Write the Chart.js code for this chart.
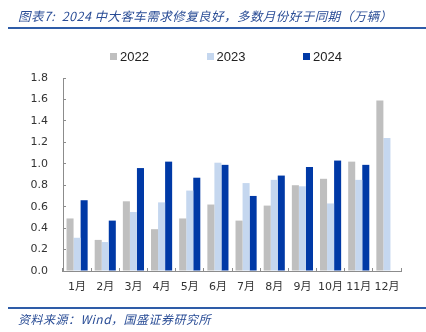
<!DOCTYPE html>
<html>
<head>
<meta charset="utf-8">
<script src="https://cdn.jsdelivr.net/npm/chart.js@4"></script>
<style>
    html, body { margin: 0; padding: 0; background: #fff; }
    #wrap { position: relative; width: 426px; height: 332px; overflow: hidden; }
    #salesChart { position: absolute; left: 0; top: 0; }
    .caption {
        position: absolute; left: 18px; font-style: italic; color: #2a4d96;
        font-family: "Noto Sans CJK SC", "DejaVu Sans", sans-serif; white-space: nowrap;
    }
    #title { top: 6px; font-size: 12.5px; letter-spacing: 0.45px; }
    #source { top: 310px; font-size: 12px; letter-spacing: 0.5px; }
    .rule { position: absolute; left: 8px; right: 0; height: 2px; background: #2e5ca8; }
    #legend { position: absolute; left: 110px; top: 49px; display: flex; }
    .legend-item { width: 96.5px; display: flex; align-items: center;
        font-family: "Liberation Sans", Arial, sans-serif; font-size: 13px; color: #222; }
    .legend-box { width: 7px; height: 7px; margin-right: 3px; }
</style>
</head>
<body>
<div id="wrap">
    <canvas id="salesChart" width="426" height="332"></canvas>
    <div id="title" class="caption">图表7:&nbsp; 2024 中大客车需求修复良好，多数月份好于同期（万辆）</div>
    <div class="rule" style="top:27px"></div>
    <div id="legend"></div>
    <div class="rule" style="top:307px"></div>
    <div id="source" class="caption">资料来源：Wind，国盛证券研究所</div>
</div>
<script>
// Monthly bus sales, 10k units
const months = ['1月', '2月', '3月', '4月', '5月', '6月', '7月', '8月', '9月', '10月', '11月', '12月'];
const seriesNames = ['2022', '2023', '2024'];
const sales2022 = [0.49, 0.29, 0.65, 0.39, 0.49, 0.62, 0.47, 0.61, 0.80, 0.86, 1.02, 1.59];
const sales2023 = [0.31, 0.27, 0.55, 0.64, 0.75, 1.01, 0.82, 0.85, 0.79, 0.63, 0.85, 1.24];
const sales2024 = [0.66, 0.47, 0.96, 1.02, 0.87, 0.99, 0.70, 0.89, 0.97, 1.03, 0.99, null];
const yTicks = [0, 0.2, 0.4, 0.6, 0.8, 1.0, 1.2, 1.4, 1.6, 1.8];

const seriesColors = ['#bfbfbf', '#c5d7ef', '#0039a6'];
const seriesData = [sales2022, sales2023, sales2024];

const tickFont = { family: '"DejaVu Sans", "Noto Sans CJK SC", sans-serif', size: 11 };

const ctx = document.getElementById('salesChart').getContext('2d');
const salesChart = new Chart(ctx, {
    type: 'bar',
    data: {
        labels: months,
        datasets: seriesNames.map((name, i) => ({
            label: name,
            data: seriesData[i],
            backgroundColor: seriesColors[i],
            borderWidth: 0
        }))
    },
    options: {
        responsive: false,
        animation: false,
        layout: { padding: { top: 78, right: 25, left: 0, bottom: 0 } },
        datasets: { bar: { categoryPercentage: 0.75, barPercentage: 1.0 } },
        plugins: {
            legend: { display: false },
            tooltip: { enabled: false }
        },
        scales: {
            x: {
                afterFit: scale => { scale.height = 61; },
                grid: { drawOnChartArea: false, tickLength: -3, color: '#8c8c8c' },
                border: { color: '#8c8c8c' },
                ticks: { font: tickFont, color: '#333', padding: 13, maxRotation: 0 }
            },
            y: {
                min: 0,
                max: yTicks[yTicks.length - 1],
                afterFit: scale => { scale.width = 63; },
                afterBuildTicks: scale => { scale.ticks = yTicks.map(v => ({ value: v })); },
                grid: { drawOnChartArea: false, tickLength: -3, color: '#8c8c8c' },
                border: { color: '#8c8c8c' },
                ticks: {
                    font: tickFont, color: '#333', padding: 18,
                    callback: v => Number(v).toFixed(1)
                }
            }
        }
    }
});

// Legend built from the chart's datasets
const legendEl = document.getElementById('legend');
salesChart.data.datasets.forEach(ds => {
    const item = document.createElement('div');
    item.className = 'legend-item';
    const box = document.createElement('span');
    box.className = 'legend-box';
    box.style.background = ds.backgroundColor;
    item.appendChild(box);
    item.appendChild(document.createTextNode(ds.label));
    legendEl.appendChild(item);
});
</script>
</body>
</html>
